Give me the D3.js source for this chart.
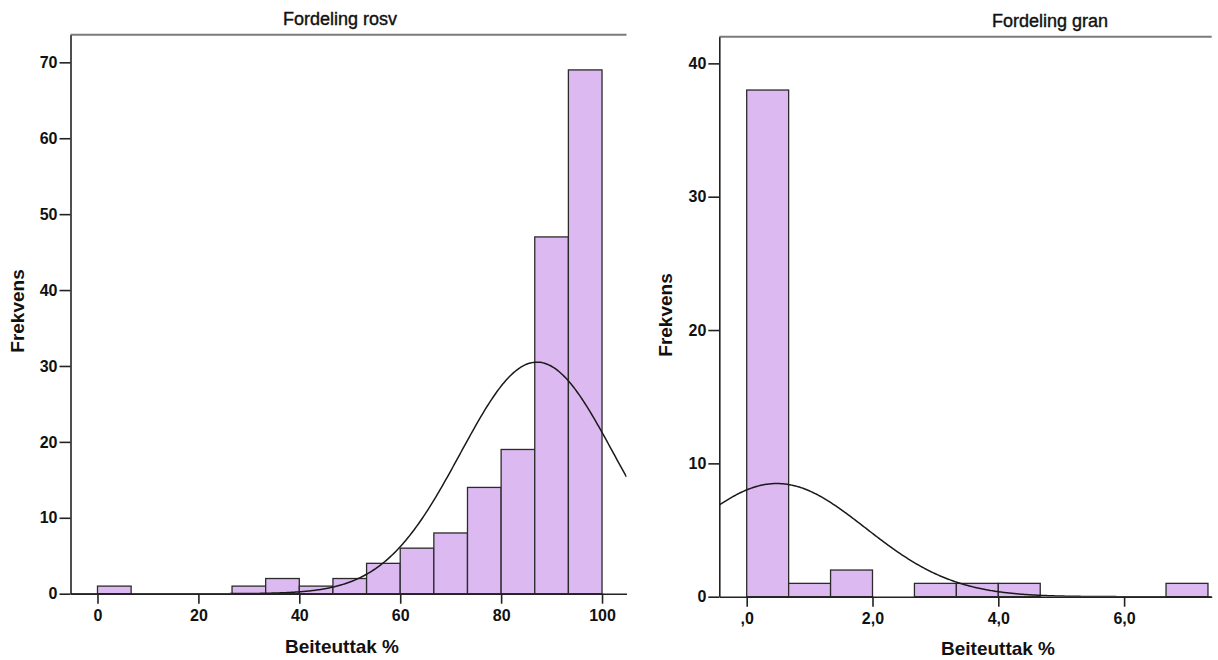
<!DOCTYPE html>
<html><head><meta charset="utf-8">
<script src="https://cdn.jsdelivr.net/npm/d3@7"></script>
<style>
body{margin:0;background:#fff;}
svg{display:block;font-family:"Liberation Sans",Arial,sans-serif;}
.tick text{font-weight:bold;font-size:16px;fill:#111;}
</style></head>
<body>
<svg id="c" width="1218" height="660"></svg>
<script>
// ---- Data: Fordeling rosv ----
const rosvBinStart = [0, 26.667, 33.333, 40, 46.667, 53.333, 60, 66.667, 73.333, 80, 86.667, 93.333];
const rosvCounts   = [1, 1, 2, 1, 2, 4, 6, 8, 14, 19, 47, 69];
const rosvBinWidth = 100 / 15;
const rosvN = 174, rosvMean = 87.1, rosvSd = 15.17;
const rosvXTicks = [0, 20, 40, 60, 80, 100];
const rosvXTickLabels = ["0", "20", "40", "60", "80", "100"];
const rosvYTicks = [0, 10, 20, 30, 40, 50, 60, 70];

// ---- Data: Fordeling gran ----
const granBinStart = [0, 0.6667, 1.3333, 2.6667, 3.3333, 4.0, 6.6667];
const granCounts   = [38, 1, 2, 1, 1, 1, 1];
const granBinWidth = 2 / 3;
const granN = 45, granMean = 0.48, granSd = 1.41;
const granXTicks = [0, 2, 4, 6];
const granXTickLabels = [",0", "2,0", "4,0", "6,0"];
const granYTicks = [0, 10, 20, 30, 40];

const titles = ["Fordeling rosv", "Fordeling gran"];
const xTitle = "Beiteuttak %";
const yTitle = "Frekvens";

const svg = d3.select("#c");

function panel(cfg) {
  const x = d3.scaleLinear().domain(cfg.xDomain).range([cfg.left, cfg.right]);
  const y = d3.scaleLinear().domain(cfg.yDomain).range([cfg.bottom, cfg.top]);
  const g = svg.append("g");

  // top frame line
  g.append("line").attr("x1", cfg.left).attr("x2", cfg.right)
    .attr("y1", cfg.top).attr("y2", cfg.top)
    .attr("stroke", "#7a7a7a").attr("stroke-width", 2);

  // bars
  g.selectAll("rect.bar").data(cfg.binStart.map((s, i) => ({s, c: cfg.counts[i]})))
    .enter().append("rect").attr("class", "bar")
    .attr("x", d => x(d.s)).attr("width", d => x(d.s + cfg.binWidth) - x(d.s))
    .attr("y", d => y(d.c)).attr("height", d => y(0) - y(d.c))
    .attr("fill", "#dcbaf1").attr("stroke", "#2b2b2b").attr("stroke-width", 1.3);

  // normal curve
  const clipId = "clip" + cfg.id;
  svg.append("clipPath").attr("id", clipId).append("rect")
    .attr("x", cfg.left).attr("y", cfg.top).attr("width", cfg.right - cfg.left).attr("height", cfg.bottom - cfg.top);
  const pts = d3.range(0, 401).map(i => cfg.xDomain[0] + (cfg.xDomain[1] - cfg.xDomain[0]) * i / 400);
  const dens = v => cfg.n * cfg.binWidth / (cfg.sd * Math.sqrt(2 * Math.PI)) * Math.exp(-0.5 * Math.pow((v - cfg.mean) / cfg.sd, 2));
  g.append("path").datum(pts)
    .attr("clip-path", `url(#${clipId})`)
    .attr("d", d3.line().x(v => x(v)).y(v => y(dens(v))))
    .attr("fill", "none").attr("stroke", "#1a1a1a").attr("stroke-width", 1.5);

  // axes
  const ya = g.append("g").attr("transform", `translate(${cfg.left},0)`)
    .call(d3.axisLeft(y).tickValues(cfg.yTicks).tickSize(11).tickSizeOuter(0).tickPadding(2));
  const xa = g.append("g").attr("transform", `translate(0,${cfg.bottom})`)
    .call(d3.axisBottom(x).tickValues(cfg.xTicks).tickSize(10).tickSizeOuter(0).tickPadding(6)
      .tickFormat((d, i) => cfg.xTickLabels[i]));
  [ya, xa].forEach(a => {
    a.select(".domain").attr("stroke", "#222").attr("stroke-width", 1.6);
    a.selectAll(".tick line").attr("stroke", "#222").attr("stroke-width", 1.6);
  });

  // titles
  g.append("text").attr("x", cfg.titleX).attr("y", cfg.titleY).attr("text-anchor", "middle")
    .attr("font-size", 18).attr("fill", "#111").attr("stroke", "#111").attr("stroke-width", 0.4)
    .text(cfg.title);
  g.append("text").attr("x", cfg.xLabelX).attr("y", cfg.xLabelY).attr("text-anchor", "middle")
    .attr("font-size", 19).attr("font-weight", "bold").attr("fill", "#111").text(xTitle);
  g.append("text").attr("transform", `translate(${cfg.yLabelX},${cfg.yLabelY}) rotate(-90)`)
    .attr("text-anchor", "middle").attr("font-size", 19).attr("font-weight", "bold").attr("fill", "#111").text(yTitle);
}

panel({
  id: 1, left: 70.5, right: 626.5, top: 34.7, bottom: 593.7,
  xDomain: [-5.35, 104.85], yDomain: [0, 73.64],
  binStart: rosvBinStart, counts: rosvCounts, binWidth: rosvBinWidth,
  n: rosvN, mean: rosvMean, sd: rosvSd,
  xTicks: rosvXTicks, xTickLabels: rosvXTickLabels, yTicks: rosvYTicks,
  title: titles[0], titleX: 340, titleY: 25,
  xLabelX: 342, xLabelY: 653, yLabelX: 24, yLabelY: 311
});

panel({
  id: 2, left: 719.3, right: 1211.7, top: 36.7, bottom: 596.7,
  xDomain: [-0.4356, 7.3927], yDomain: [0, 42.0],
  binStart: granBinStart, counts: granCounts, binWidth: granBinWidth,
  n: granN, mean: granMean, sd: granSd,
  xTicks: granXTicks, xTickLabels: granXTickLabels, yTicks: granYTicks,
  title: titles[1], titleX: 1050, titleY: 27,
  xLabelX: 998, xLabelY: 655, yLabelX: 672, yLabelY: 315
});
</script>
</body></html>
